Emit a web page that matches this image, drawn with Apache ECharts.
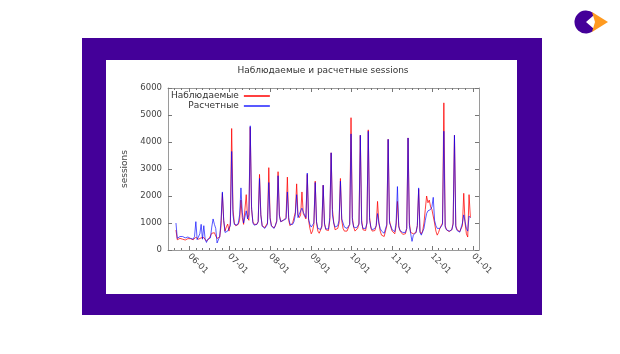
<!DOCTYPE html>
<html>
<head>
<meta charset="utf-8">
<script src="https://cdn.jsdelivr.net/npm/echarts@6/dist/echarts.min.js"></script>
<style>
html, body { margin: 0; padding: 0; background: #fff; }
#main { width: 620px; height: 354px; }
</style>
</head>
<body>
<div id="main"></div>
<script>
// daily values starting from firstDay (May 22 .. Dec 30)
var firstDay = [2015, 4, 22];
var seriesNames = ['Наблюдаемые', 'Расчетные'];
var observed = [
  740, 380, 400, 430, 420, 400, 380, 370, 380, 420,
  450, 420, 400, 380, 420, 470, 420, 400, 430, 450, 380, 460, 400, 330, 380, 420, 450, 620, 680, 640, 520, 430, 400, 480, 900, 2100, 1100, 700, 860, 960,
  700, 1000, 4500, 1500, 1000, 900, 880, 950, 1100, 1850, 1200, 950, 1000, 2050, 1200, 1100, 4550, 1500, 1050, 950, 900, 950, 1050, 2800, 1300, 900, 850, 830, 880, 1000, 3050,
  1200, 900, 850, 820, 900, 1100, 2900, 1300, 1050, 1000, 1100, 1050, 1200, 2700, 1100, 900, 950, 1000, 1050, 1400, 2450, 1300, 1200, 1300, 2150, 1350, 1250, 1150, 2800, 1100, 800,
  600, 700, 950, 2550, 1000, 700, 620, 650, 850, 2400, 1000, 750, 700, 720, 1100, 3600, 1500, 1000, 750, 720, 800, 1000, 2650, 1100, 800, 700, 750, 700, 750, 950,
  4900, 1200, 850, 700, 750, 800, 1000, 4250, 1100, 750, 700, 720, 1000, 4450, 1200, 800, 700, 650, 720, 900, 1800, 1000, 700, 550, 480, 500, 560, 900, 4100, 1100, 850,
  700, 650, 600, 900, 1800, 900, 700, 650, 580, 560, 600, 800, 4150, 1000, 650, 620, 600, 620, 650, 900, 2250, 700, 600, 700, 1000, 1500, 2000, 1750, 1850, 1600,
  1500, 1550, 1000, 700, 550, 650, 800, 750, 1000, 5450, 900, 750, 700, 680, 700, 750, 1000, 4250, 900, 750, 700, 680, 700, 900, 2100, 1000, 600, 480, 2050, 1200
];
var predicted = [
  1000, 430, 470, 500, 520, 500, 470, 450, 460, 480,
  470, 430, 420, 400, 500, 1050, 380, 450, 600, 950, 400, 900, 400, 280, 400, 430, 450, 850, 1150, 950, 800, 260, 300, 500, 1100, 2150, 1100, 650, 620, 700,
  650, 900, 3650, 1300, 950, 900, 920, 1000, 1300, 2300, 1400, 1000, 1050, 1450, 1150, 1300, 4600, 1600, 1000, 920, 900, 950, 1050, 2650, 1300, 880, 820, 800, 850, 950, 2500,
  1150, 880, 820, 800, 850, 1050, 2750, 1250, 1050, 1050, 1100, 1100, 1150, 2150, 1200, 950, 880, 950, 1050, 1300, 2050, 1200, 1250, 1450, 1550, 1400, 1300, 1200, 2850, 1150, 950,
  850, 900, 1000, 2500, 1050, 800, 750, 760, 900, 2400, 950, 780, 760, 780, 1200, 3600, 1300, 1000, 850, 800, 900, 1100, 2550, 1150, 1000, 850, 900, 800, 850, 950,
  4300, 1100, 850, 800, 820, 780, 950, 4250, 1000, 800, 780, 800, 1000, 4400, 1100, 850, 750, 720, 800, 900, 1350, 1000, 800, 700, 650, 620, 600, 950, 4100, 1000, 900,
  750, 720, 680, 1000, 2350, 850, 720, 680, 650, 640, 650, 800, 4150, 900, 600, 320, 550, 600, 650, 900, 2300, 650, 550, 600, 800, 1100, 1350, 1450, 1500, 1500,
  1600, 1950, 1100, 900, 800, 750, 800, 850, 950, 4400, 850, 750, 700, 700, 720, 750, 950, 4250, 850, 720, 680, 660, 700, 1000, 1300, 1050, 800, 700, 1250, 1200
];

var axisMin = new Date(2015, 4, 16).getTime();
var axisMax = new Date(2016, 0, 5, 12).getTime();

function pairs(arr) {
  return arr.map(function (v, i) {
    return [new Date(firstDay[0], firstDay[1], firstDay[2] + i).getTime(), v];
  });
}

// month starts get labels, minor ticks every 5 days
var monthTicks = [];
for (var m = 5; m <= 12; m++) monthTicks.push(new Date(2015, m, 1).getTime());
var minorTicks = [];
for (var mm = 4; mm <= 12; mm++) {
  [6, 11, 16, 21, 26].forEach(function (d) {
    var t = new Date(2015, mm, d).getTime();
    if (t > axisMin && t < axisMax) minorTicks.push(t);
  });
}

function pad(n) { return (n < 10 ? '0' : '') + n; }
function fmtDate(v) {
  var d = new Date(v);
  return pad(d.getMonth() + 1) + '-' + pad(d.getDate());
}

var font = 'DejaVu Sans';
var borderColor = '#9a9a9a';
var chart = echarts.init(document.getElementById('main'));

function xAxisDef(pos, ticks, len, withLine, withLabels) {
  return {
    type: 'value', min: axisMin, max: axisMax, position: pos, scale: true,
    axisLine: { show: withLine, onZero: false, lineStyle: { color: borderColor, width: 1 } },
    axisTick: { show: true, inside: true, length: len, customValues: ticks, lineStyle: { color: '#777' } },
    axisLabel: withLabels ? {
      customValues: monthTicks, rotate: -45, formatter: fmtDate,
      fontFamily: font, fontSize: 8.5, color: '#444', margin: 5
    } : { show: false },
    splitLine: { show: false }
  };
}

function yAxisDef(pos, withLabels) {
  return {
    type: 'value', min: 0, max: 6000, interval: 1000, position: pos,
    name: withLabels ? 'sessions' : '',
    nameLocation: 'middle', nameGap: 33, nameRotate: 90,
    nameTextStyle: { fontFamily: font, fontSize: 9, color: '#444' },
    axisLine: { show: true, onZero: false, lineStyle: { color: borderColor, width: 1 } },
    axisTick: { show: true, inside: true, length: 4, lineStyle: { color: '#777' } },
    axisLabel: withLabels ? {
      fontFamily: font, fontSize: 8.5, color: '#444', margin: 6,
      formatter: function (v) { return String(v); }
    } : { show: false },
    splitLine: { show: false }
  };
}

var option = {
  backgroundColor: '#fff',
  animation: false,
  graphic: [
    { type: 'rect', z: -10, shape: { x: 82, y: 38, width: 460, height: 277 }, style: { fill: '#440099' } },
    { type: 'rect', z: -9, shape: { x: 106, y: 60, width: 411, height: 234 }, style: { fill: '#fff' } },
    { type: 'sector', z: -9, shape: { cx: 586, cy: 22, r: 11.5, startAngle: Math.PI * 0.23, endAngle: Math.PI * 1.77 }, style: { fill: '#440099' } },
    { type: 'polygon', z: -9, shape: { points: [[592, 12], [608, 22], [592, 32], [595, 22]] }, style: { fill: '#ff9a1f' } }
  ],
  title: {
    text: 'Наблюдаемые и расчетные sessions',
    left: 323, top: 66, textAlign: 'center', padding: 0,
    textStyle: { fontFamily: font, fontSize: 9, fontWeight: 'normal', color: '#333' }
  },
  legend: {
    data: seriesNames,
    orient: 'vertical', align: 'right',
    left: 171, top: 91, padding: 0,
    itemWidth: 26, itemHeight: 10, itemGap: 0,
    itemStyle: { color: 'transparent', borderColor: 'transparent', borderWidth: 0 },
    textStyle: { fontFamily: font, fontSize: 9, lineHeight: 10, color: '#333' }
  },
  grid: { left: 168, right: 141, top: 88, bottom: 104, containLabel: false },
  xAxis: [
    xAxisDef('bottom', monthTicks, 4, true, true),
    xAxisDef('bottom', minorTicks, 2, false, false),
    xAxisDef('top', monthTicks, 4, true, false),
    xAxisDef('top', minorTicks, 2, false, false)
  ],
  yAxis: [yAxisDef('left', true), yAxisDef('right', false)],
  series: [
    {
      name: seriesNames[0], type: 'line', data: pairs(observed),
      symbol: 'none', xAxisIndex: 0, yAxisIndex: 0,
      itemStyle: { color: 'rgba(255,0,0,0.75)' },
      lineStyle: { width: 1, color: 'rgba(255,0,0,0.75)' }
    },
    {
      name: seriesNames[1], type: 'line', data: pairs(predicted),
      symbol: 'none', xAxisIndex: 0, yAxisIndex: 0,
      itemStyle: { color: 'rgba(0,0,255,0.65)' },
      lineStyle: { width: 1, color: 'rgba(0,0,255,0.65)' }
    }
  ]
};
chart.setOption(option);
</script>
</body>
</html>
